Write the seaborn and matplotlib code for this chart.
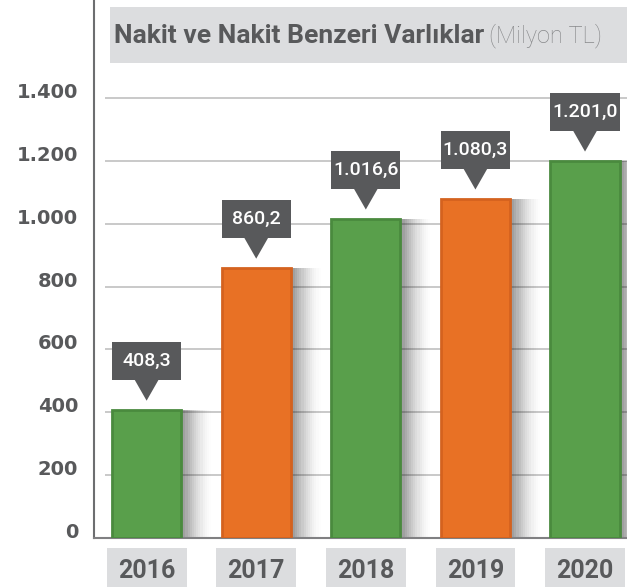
import numpy as np
import seaborn as sns
import matplotlib.pyplot as plt
from matplotlib.patches import Rectangle, Polygon

# Datos
years = ['2016', '2017', '2018', '2019', '2020']
values = [408.3, 860.2, 1016.6, 1080.3, 1201.0]
value_labels = ['408,3', '860,2', '1.016,6', '1.080,3', '1.201,0']
bar_colors = ['#599f4b', '#e87125', '#599f4b', '#e87125', '#599f4b']
edge_colors = ['#4a8a3e', '#d4621f', '#4a8a3e', '#d4621f', '#4a8a3e']
yticks = [0, 200, 400, 600, 800, 1000, 1200, 1400]
ytick_labels = ['0', '200', '400', '600', '800', '1.000', '1.200', '1.400']

sns.set_theme(style='white')
plt.rcParams['font.family'] = ['Roboto', 'DejaVu Sans']

dark = '#58595b'
fig = plt.figure(figsize=(6.27, 5.87), dpi=100)
ax = fig.add_axes([94 / 627, 49 / 587, 533 / 627, 538 / 587])

bar_w = 0.63
sns.barplot(x=years, y=values, hue=years, palette=bar_colors, legend=False,
            width=bar_w, saturation=1, ax=ax, zorder=3)
for p, ec in zip(ax.patches, edge_colors):
    p.set_edgecolor(ec)
    p.set_linewidth(2)

ax.set_xlim(-0.48, 4.383)
ax.set_ylim(0, 1712)

# escala px
px_y = (538 / 1712)
px_x = 109.6

# sombra degradada a la derecha de cada barra
n_strips = 14
sw = 30 / px_x / n_strips
for k in range(n_strips):
    a = 0.42 * (1 - k / n_strips) ** 1.6
    xs = np.arange(len(values)) + bar_w / 2 + (k + 0.5) * sw
    ax.bar(xs, values, width=sw, color='black', alpha=a, linewidth=0, zorder=2)

# lineas de la grilla
ax.hlines(yticks[1:], -0.38, 4.383, color='#c9c9c9', lw=1.4, zorder=1)

# etiquetas tipo globo
box_h = 38 / px_y
gap = 9 / px_y
tri_h = 21 / px_y
tri_half = 12 / px_x
for i, (v, lab) in enumerate(zip(values, value_labels)):
    tip = v + gap
    ax.add_patch(Polygon([[i - tri_half, tip + tri_h], [i + tri_half, tip + tri_h], [i, tip]],
                         closed=True, color=dark, lw=0, zorder=4))
    ax.add_patch(Rectangle((i - bar_w / 2, tip + tri_h), bar_w, box_h,
                           color=dark, lw=0, zorder=4))
    ax.text(i, tip + tri_h + box_h / 2, lab, color='white', fontsize=14,
            fontweight='medium', ha='center', va='center', zorder=5)

# ejes
ax.set_yticks(yticks, labels=ytick_labels)
ax.tick_params(axis='y', length=0, pad=11.5, labelsize=14, labelcolor=dark)
for t in ax.get_yticklabels():
    t.set_fontweight('bold')
    t.set_family(['DejaVu Sans'])
    t.set_va('baseline')

ax.set_xticks(range(len(years)), labels=years)
ax.tick_params(axis='x', length=0, pad=15, labelsize=18, labelcolor=dark)
for t in ax.get_xticklabels():
    t.set_fontweight('bold')
    t.set_bbox(dict(boxstyle='square,pad=0.45', fc='#dcdddf', ec='none'))

ax.set_xlabel('')
ax.set_ylabel('')
for s in ['top', 'right']:
    ax.spines[s].set_visible(False)
ax.spines['left'].set_color('#6d6e70')
ax.spines['left'].set_linewidth(1.5)
ax.spines['bottom'].set_color('#808082')
ax.spines['bottom'].set_linewidth(1.5)

# titulo
fig.patches.append(Rectangle((110 / 627, 1 - 63 / 587), 1, 56 / 587,
                             transform=fig.transFigure, color='#dcdddf', lw=0))
t1 = fig.text(114 / 627, 1 - 36 / 587, 'Nakit ve Nakit Benzeri Varlıklar',
              fontsize=19, fontweight='bold', color=dark, va='center')
fig.canvas.draw()
bb = t1.get_window_extent()
fig.text(bb.x1 / 627 + 5 / 627, 1 - 36 / 587, '(Milyon TL)',
         fontsize=17, fontweight='light', color='#88898b', va='center')

plt.savefig('out.png', dpi=100)
